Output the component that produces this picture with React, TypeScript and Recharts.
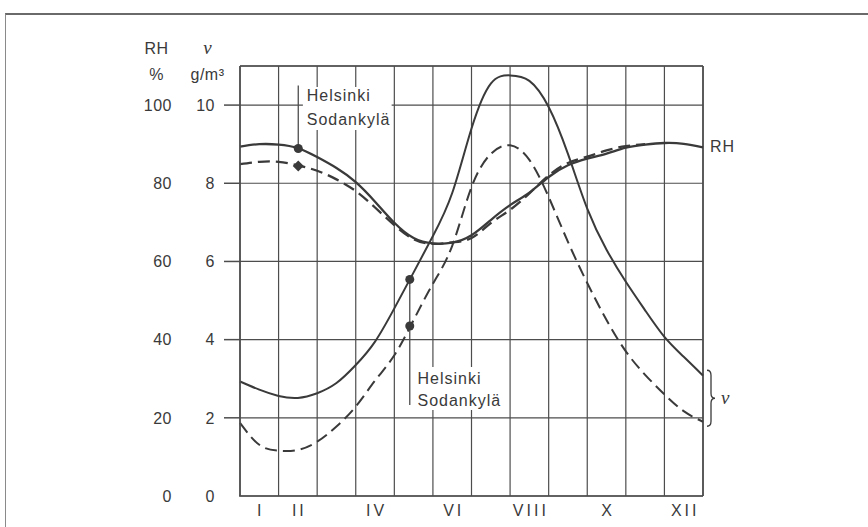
import React from 'react';
import {
  LineChart,
  Line,
  XAxis,
  YAxis,
  CartesianGrid,
  ReferenceLine,
  ReferenceDot,
  ReferenceArea,
} from 'recharts';

// Month position (0 = start of January, 12 = end of December)
const MONTH_POS = [0, 0.5, 1, 1.5, 2, 2.5, 3, 3.5, 4, 4.5, 5, 5.5, 6, 6.5, 7, 7.5, 8, 8.5, 9, 9.5, 10, 10.5, 11, 11.5, 12];
// Relative humidity, %
const HELSINKI_RH = [89.4, 90.0, 89.9, 89.0, 86.7, 83.9, 80.3, 75.3, 69.9, 66.0, 64.6, 64.8, 66.7, 70.6, 74.4, 77.6, 81.6, 84.6, 86.3, 87.6, 89.1, 89.9, 90.3, 90.1, 89.2];
const SODANKYLA_RH = [84.9, 85.5, 85.5, 84.6, 83.2, 81.0, 78.0, 73.8, 69.3, 65.7, 64.5, 64.9, 66.0, 69.8, 73.2, 77.4, 82.0, 85.2, 86.8, 88.4, 89.5, 90.0, null, null, null];
// Absolute humidity ν, g/m³
const HELSINKI_V = [2.93, 2.72, 2.56, 2.51, 2.63, 2.89, 3.35, 3.95, 4.8, 5.72, 6.65, 7.75, 9.4, 10.55, 10.76, 10.62, 9.95, 8.75, 7.35, 6.3, 5.48, 4.75, 4.07, 3.56, 3.08];
const SODANKYLA_V = [1.87, 1.31, 1.16, 1.18, 1.39, 1.78, 2.29, 2.95, 3.6, 4.5, 5.43, 6.4, 7.9, 8.75, 8.97, 8.6, 7.65, 6.5, 5.45, 4.5, 3.7, 3.1, 2.6, 2.17, 1.9];

const GRID_X = [0, 1, 2, 3, 4, 5, 6, 7, 8, 9, 10, 11, 12];
const MONTH_TICKS = [0.5, 1.5, 3.5, 5.5, 7.5, 9.5, 11.5];
const MONTH_LABELS = ['I', 'II', 'IV', 'VI', 'VIII', 'X', 'XII'];
const V_TICKS = [0, 2, 4, 6, 8, 10];
const RH_TICKS = [0, 20, 40, 60, 80, 100];

// annotated points
const MARK_T_UPPER = 1.51;
const MARK_HEL_RH = 88.9;
const MARK_SOD_RH = 84.4;
const MARK_T_LOWER = 4.4;
const MARK_HEL_V = 5.54;
const MARK_SOD_V = 4.35;

const data = MONTH_POS.map((t, i) => ({
  t,
  helRH: HELSINKI_RH[i],
  sodRH: SODANKYLA_RH[i],
  helV: HELSINKI_V[i],
  sodV: SODANKYLA_V[i],
}));

const INK = '#3a3a3a';
const GRID = '#4d4d4d';
const FONT = "'Liberation Sans', Arial, sans-serif";
const V_ID = 'a_nu';
const RH_ID = 'b_rh';

const VTick = (p: any) => {
  const x = Number(p.x);
  const y = Number(p.y);
  const v = Number(p.payload.value);
  return (
    <g>
      <text x={x} y={y} dy="0.36em" textAnchor="end" fontFamily={FONT} fontSize={16} fill={INK} letterSpacing={0.5}>
        {v}
      </text>
      {v === 0 ? <line x1={x + 8} x2={x + 24} y1={y} y2={y} stroke="#fff" strokeWidth={3} /> : null}
    </g>
  );
};

const RHTick = (p: any) => {
  const { x, y, payload } = p;
  return (
    <text x={x} y={y} dy="0.36em" textAnchor="end" fontFamily={FONT} fontSize={16} fill={INK} letterSpacing={0.5}>
      {payload.value}
    </text>
  );
};

const MonthTick = (p: any) => {
  const { x, y, payload } = p;
  const idx = MONTH_TICKS.indexOf(payload.value);
  return (
    <text x={Number(x) + 1.5} y={y} dy="0.71em" textAnchor="middle" fontFamily={FONT} fontSize={16} fill={INK} letterSpacing={3}>
      {MONTH_LABELS[idx]}
    </text>
  );
};

const HeaderRH = (p: any) => {
  const vb = p.viewBox;
  const cx = vb.x + vb.width / 2;
  return (
    <text fontFamily={FONT} fontSize={16} fill={INK} textAnchor="middle" letterSpacing={0.5}>
      <tspan x={cx} y={vb.y - 12}>RH</tspan>
      <tspan x={cx} y={vb.y + 14}>%</tspan>
    </text>
  );
};

const HeaderV = (p: any) => {
  const vb = p.viewBox;
  const cx = vb.x + vb.width / 2;
  return (
    <g>
      <text x={cx} y={vb.y - 12} textAnchor="middle" fontFamily="'Liberation Serif', serif" fontStyle="italic" fontSize={19} fill={INK}>
        ν
      </text>
      <text x={cx} y={vb.y + 14} textAnchor="middle" fontFamily={FONT} fontSize={16} fill={INK} letterSpacing={0.5}>
        g/m³
      </text>
    </g>
  );
};

const textShape = (label: string, dx = 0) => (p: any) => (
  <text x={p.cx + dx} y={p.cy} dy="0.36em" textAnchor="start" fontFamily={FONT} fontSize={16} fill={INK} letterSpacing={1}>
    {label}
  </text>
);

const diamondShape = (p: any) => (
  <path d={`M${p.cx} ${p.cy - 5.5} L${p.cx + 5.5} ${p.cy} L${p.cx} ${p.cy + 5.5} L${p.cx - 5.5} ${p.cy} Z`} fill={INK} />
);

const braceShape = (p: any) => {
  const x0 = p.cx + 4;
  const cy = p.cy;
  const top = cy - 28;
  const bot = cy + 28;
  const d = `M${x0} ${top} Q${x0 + 4} ${top} ${x0 + 4} ${top + 5} L${x0 + 4} ${cy - 5} Q${x0 + 4} ${cy} ${x0 + 8} ${cy} Q${x0 + 4} ${cy} ${x0 + 4} ${cy + 5} L${x0 + 4} ${bot - 5} Q${x0 + 4} ${bot} ${x0} ${bot}`;
  return (
    <g>
      <path d={d} fill="none" stroke={INK} strokeWidth={1.3} />
      <text x={x0 + 14} y={cy} dy="0.3em" fontFamily="'Liberation Serif', serif" fontStyle="italic" fontSize={19} fill={INK}>
        ν
      </text>
    </g>
  );
};

export default function App() {
  return (
    <div style={{ position: 'absolute', left: 0, top: 0, width: 868, height: 527, background: '#fff', overflow: 'hidden' }}>
      <div
        style={{
          position: 'absolute',
          left: 5,
          top: 13,
          width: 880,
          height: 540,
          borderTop: '2px solid #6a6a6a',
          borderLeft: '1px solid #8a8a8a',
        }}
      />
      <div style={{ position: 'absolute', left: 0, top: 0 }}>
        <LineChart width={868} height={527} data={data} margin={{ top: 66, right: 165, bottom: 7, left: 138 }}>
          <XAxis
            xAxisId="m"
            type="number"
            dataKey="t"
            domain={[0, 12]}
            ticks={MONTH_TICKS}
            height={24}
            axisLine={{ stroke: GRID, strokeWidth: 1.6 }}
            tickLine={false}
            tickSize={0}
            tickMargin={9}
            tick={<MonthTick />}
            interval={0}
          />
          <XAxis xAxisId="g" type="number" dataKey="t" domain={[0, 12]} ticks={GRID_X} height={0} hide />
          <YAxis
            yAxisId={V_ID}
            type="number"
            domain={[0, 11]}
            ticks={V_TICKS}
            width={65}
            axisLine={{ stroke: GRID, strokeWidth: 1.6 }}
            tickLine={{ stroke: GRID, strokeWidth: 1.5 }}
            tickSize={16}
            tickMargin={9}
            tick={<VTick />}
            interval={0}
            label={<HeaderV />}
          />
          <YAxis
            yAxisId={RH_ID}
            type="number"
            domain={[0, 110]}
            ticks={RH_TICKS}
            width={37}
            axisLine={false}
            tickLine={false}
            tickSize={0}
            tickMargin={3}
            tick={<RHTick />}
            interval={0}
            label={<HeaderRH />}
          />
          <CartesianGrid xAxisId="g" yAxisId={V_ID} stroke={GRID} strokeWidth={1.2} />
          <ReferenceLine xAxisId="m" yAxisId={V_ID} y={11} stroke={GRID} strokeWidth={1.6} />
          <ReferenceLine xAxisId="m" yAxisId={V_ID} x={12} stroke={GRID} strokeWidth={1.6} />

          {/* white gaps behind the annotation texts */}
          <ReferenceArea xAxisId="m" yAxisId={V_ID} x1={1.63} x2={3.93} y1={9.36} y2={10.46} fill="#fff" fillOpacity={1} stroke="none" />
          <ReferenceArea xAxisId="m" yAxisId={V_ID} x1={4.55} x2={6.85} y1={2.2} y2={3.3} fill="#fff" fillOpacity={1} stroke="none" />

          <Line xAxisId="m" yAxisId={RH_ID} type="natural" dataKey="helRH" stroke={INK} strokeWidth={2.3} dot={false} isAnimationActive={false} />
          <Line xAxisId="m" yAxisId={RH_ID} type="natural" dataKey="sodRH" stroke={INK} strokeWidth={2.3} strokeDasharray="12 6" dot={false} isAnimationActive={false} />
          <Line xAxisId="m" yAxisId={V_ID} type="natural" dataKey="helV" stroke={INK} strokeWidth={2} dot={false} isAnimationActive={false} />
          <Line xAxisId="m" yAxisId={V_ID} type="natural" dataKey="sodV" stroke={INK} strokeWidth={2} strokeDasharray="12 6" dot={false} isAnimationActive={false} />

          {/* leader lines */}
          <ReferenceLine
            xAxisId="m"
            yAxisId={RH_ID}
            segment={[{ x: MARK_T_UPPER, y: MARK_HEL_RH }, { x: MARK_T_UPPER, y: 105 }]}
            stroke={GRID}
            strokeWidth={1.3}
          />
          <ReferenceLine
            xAxisId="m"
            yAxisId={V_ID}
            segment={[{ x: MARK_T_LOWER, y: MARK_HEL_V }, { x: MARK_T_LOWER, y: 2.33 }]}
            stroke={GRID}
            strokeWidth={1.3}
          />

          <ReferenceDot xAxisId="m" yAxisId={RH_ID} x={MARK_T_UPPER} y={MARK_HEL_RH} r={4.5} fill={INK} stroke="none" />
          <ReferenceDot xAxisId="m" yAxisId={RH_ID} x={MARK_T_UPPER} y={MARK_SOD_RH} shape={diamondShape} />
          <ReferenceDot xAxisId="m" yAxisId={V_ID} x={MARK_T_LOWER} y={MARK_HEL_V} r={4.5} fill={INK} stroke="none" />
          <ReferenceDot xAxisId="m" yAxisId={V_ID} x={MARK_T_LOWER} y={MARK_SOD_V} r={4.5} fill={INK} stroke="none" />

          {/* annotation texts */}
          <ReferenceDot xAxisId="m" yAxisId={V_ID} x={1.73} y={10.24} shape={textShape('Helsinki')} />
          <ReferenceDot xAxisId="m" yAxisId={V_ID} x={1.73} y={9.64} shape={textShape('Sodankylä')} />
          <ReferenceDot xAxisId="m" yAxisId={V_ID} x={4.6} y={3.02} shape={textShape('Helsinki')} />
          <ReferenceDot xAxisId="m" yAxisId={V_ID} x={4.6} y={2.46} shape={textShape('Sodankylä')} />
          <ReferenceDot xAxisId="m" yAxisId={RH_ID} x={12} y={89.4} shape={textShape('RH', 7)} />
          <ReferenceDot xAxisId="m" yAxisId={V_ID} x={12} y={2.5} shape={braceShape} />
        </LineChart>
      </div>
    </div>
  );
}
